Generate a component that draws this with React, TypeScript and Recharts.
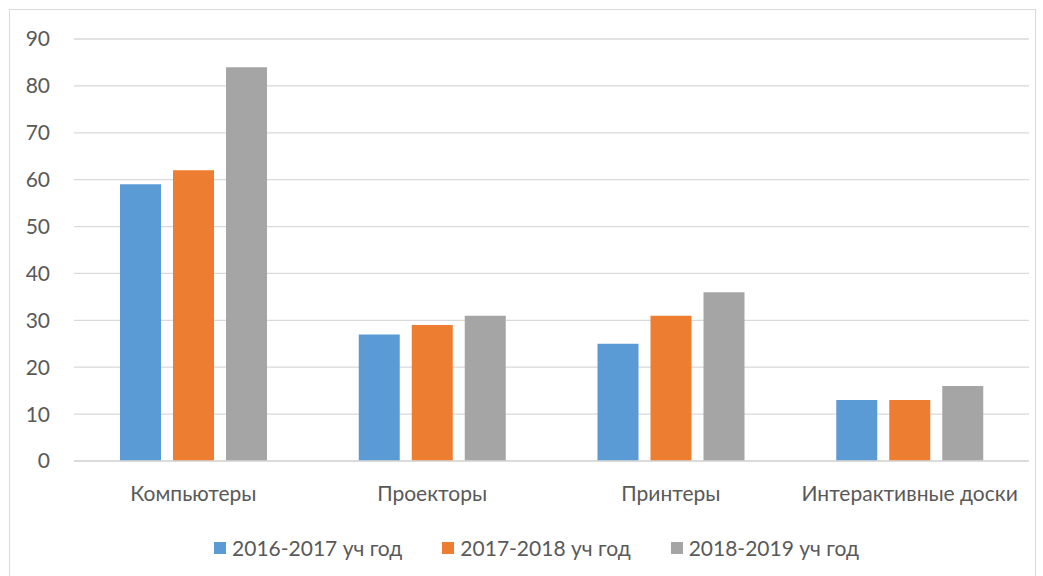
import React from 'react';
import { BarChart, Bar, XAxis, YAxis, CartesianGrid, Legend } from 'recharts';

const categories = ['Компьютеры', 'Проекторы', 'Принтеры', 'Интерактивные доски'];
const y2016 = [59, 27, 25, 13];
const y2017 = [62, 29, 31, 13];
const y2018 = [84, 31, 36, 16];
const yTicks = [0, 10, 20, 30, 40, 50, 60, 70, 80, 90];

const seriesNames = ['2016-2017 уч год', '2017-2018 уч год', '2018-2019 уч год'];
const colors = ['#5B9BD5', '#ED7D31', '#A5A5A5'];

const data = categories.map((name, i) => ({
  name,
  a: y2016[i],
  b: y2017[i],
  c: y2018[i],
}));

const FONT = 'Lato, "Open Sans", sans-serif';

const LegendContent = () => (
  <div
    style={{
      display: 'flex',
      justifyContent: 'center',
      gap: 40,
      paddingLeft: 34,
      fontFamily: FONT,
      fontSize: 21,
      color: '#595959',
    }}
  >
    {seriesNames.map((n, i) => (
      <div key={`lg-${n}`} style={{ display: 'flex', alignItems: 'center', gap: 6 }}>
        <span style={{ width: 12, height: 12, background: colors[i], display: 'inline-block' }} />
        <span>{n}</span>
      </div>
    ))}
  </div>
);

export default function App() {
  return (
    <div
      style={{
        position: 'absolute',
        left: 9,
        top: 9,
        width: 1025,
        height: 580,
        border: '1px solid #d9d9d9',
        background: '#fff',
      }}
    >
      <BarChart
        width={1024}
        height={570}
        data={data}
        margin={{ top: 29, right: 5, left: 0, bottom: 34 }}
        barGap={12}
        barSize={41}
      >
        <CartesianGrid vertical={false} stroke="#d9d9d9" strokeWidth={1.3} />
        <XAxis
          dataKey="name"
          tickLine={false}
          axisLine={{ stroke: '#d9d9d9', strokeWidth: 1.3 }}
          tick={{ fill: '#595959', fontSize: 21, fontFamily: FONT }}
          tickMargin={19}
          height={60}
          interval={0}
        />
        <YAxis
          domain={[0, 90]}
          ticks={yTicks}
          width={64}
          tickLine={false}
          axisLine={false}
          tickSize={0}
          tickMargin={24}
          tick={{ fill: '#595959', fontSize: 21, fontFamily: FONT }}
        />
        <Legend verticalAlign="bottom" content={<LegendContent />} wrapperStyle={{ bottom: 20 }} />
        <Bar dataKey="a" name={seriesNames[0]} fill={colors[0]} isAnimationActive={false} />
        <Bar dataKey="b" name={seriesNames[1]} fill={colors[1]} isAnimationActive={false} />
        <Bar dataKey="c" name={seriesNames[2]} fill={colors[2]} isAnimationActive={false} />
      </BarChart>
    </div>
  );
}
